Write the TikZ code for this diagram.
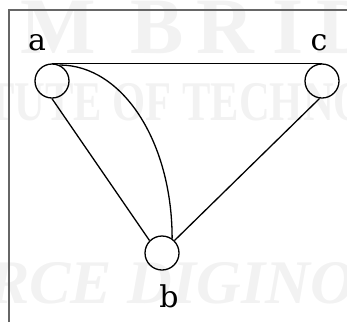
\documentclass[tikz,border=0pt]{standalone}
\usepackage{fontspec}
\usepackage{graphicx}
\setmainfont{DejaVu Serif}
\newfontfamily\wmfont{Liberation Serif}
\begin{document}
\begin{tikzpicture}[x=1pt,y=1pt,
  vert/.style={circle, draw, line width=1.3pt, minimum size=34pt, inner sep=0pt},
  edge/.style={line width=1.3pt},
  lbl/.style={font=\fontsize{30}{30}\selectfont, anchor=base, inner sep=0pt},
  wm/.style={text=black!5, inner sep=0pt, anchor=base},
  frame/.style={draw=black!60, line width=1.1pt}]
\useasboundingbox (0,0) rectangle (347,-322);
\begin{scope}
\clip (0,0) rectangle (347,-322);
% watermark
\node[wm, font=\wmfont\bfseries\fontsize{80}{80}\selectfont] (w1) at (58,-53) {M};
\node[wm, font=\wmfont\bfseries\fontsize{80}{80}\selectfont] (w2) at (157,-53) {B};
\node[wm, font=\wmfont\bfseries\fontsize{80}{80}\selectfont] (w3) at (225,-53) {R};
\node[wm, font=\wmfont\bfseries\fontsize{80}{80}\selectfont] (w4) at (288,-53) {I};
\node[wm, font=\wmfont\bfseries\fontsize{80}{80}\selectfont] (w5) at (345,-53) {D};
\node[wm, anchor=base west, xscale=0.76, font=\wmfont\bfseries\fontsize{56}{56}\selectfont] (w6) at (-14,-120) {TUTE OF TECHNO};
\node[wm, anchor=base west, xscale=1.0, font=\wmfont\bfseries\itshape\fontsize{62}{62}\selectfont] (w7) at (-12,-303) {RCE\ DIGINO};
\end{scope}
% frame
\coordinate (f1) at (9,-322);
\coordinate (f2) at (9,-10);
\coordinate (f3) at (347,-10);
\draw[frame] (f1) -- (f2) -- (f3);
% vertices
\node[vert] (a) at (52,-81) {};
\node[vert] (c) at (322,-81) {};
\node[vert] (b) at (162,-253) {};
% labels
\node[lbl] (la) at (37,-50) {a};
\node[lbl] (lc) at (319,-50) {c};
\node[lbl] (lb) at (169,-307) {b};
% edges
\draw[edge] (a.north) -- (c.north);
\draw[edge] (a.south) -- (b.135);
\draw[edge] (a.65) to[out=0, in=90, out distance=63pt, in distance=97pt] (b.55);
\draw[edge] (b.45) -- (c.262);
\end{tikzpicture}
\end{document}
